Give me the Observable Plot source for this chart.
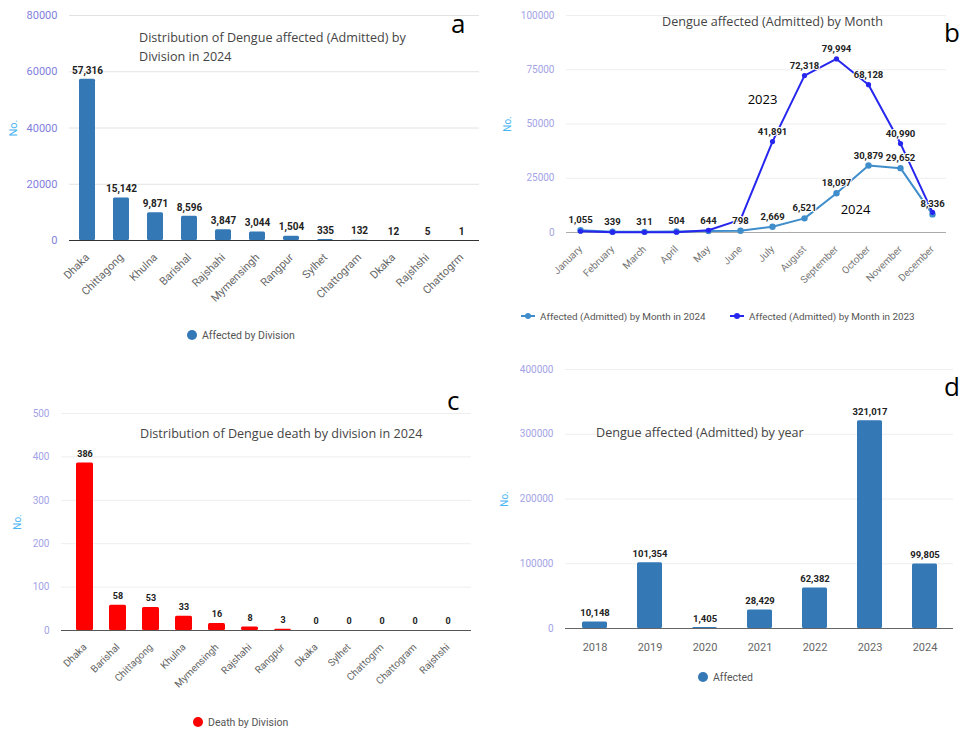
<!DOCTYPE html>
<html>
<head>
<meta charset="utf-8">
<script src="https://cdn.jsdelivr.net/npm/d3@7"></script>
<script src="https://cdn.jsdelivr.net/npm/@observablehq/plot@0.6"></script>
<style>
  body { margin: 0; background: #fff; }
  #root { position: relative; width: 960px; height: 730px; overflow: hidden; font-family: "Open Sans", sans-serif; }
  .panel { position: absolute; }
  .title { position: absolute; color: #444; font-family: "Open Sans", sans-serif; font-size: 12.6px; line-height: 19px; white-space: nowrap; }
  .letter { position: absolute; font-family: "Open Sans", sans-serif; font-size: 26px; line-height: 28px; color: #000; }
  .legend { position: absolute; font-family: Roboto, sans-serif; font-size: 10.5px; color: #555; display: flex; align-items: center; gap: 5px; white-space: nowrap; height: 14px; }
  .legend.small { font-size: 9.9px; }
  .dot { width: 10px; height: 10px; border-radius: 50%; display: inline-block; }
  [aria-label="y-axis label"] { fill: #4cb6f2; }
</style>
</head>
<body>
<div id="root"></div>
<script>
// ---------- DATA ----------
// Panel a: affected (admitted) by division, 2024
const divisionsA = ["Dhaka","Chittagong","Khulna","Barishal","Rajshahi","Mymensingh","Rangpur","Sylhet","Chattogram","Dkaka","Rajshshi","Chattogrm"];
const affectedA = [57316, 15142, 9871, 8596, 3847, 3044, 1504, 335, 132, 12, 5, 1];
const ticksA = [0, 20000, 40000, 60000, 80000];

// Panel b: affected (admitted) by month, 2024 vs 2023
const months = ["January","February","March","April","May","June","July","August","September","October","November","December"];
const admitted2024 = [1055, 339, 311, 504, 644, 798, 2669, 6521, 18097, 30879, 29652, 8336];
const admitted2023 = [566, 166, 111, 143, 1036, 5956, 41891, 72318, 79994, 68128, 40990, 9288];
const labeledMonths2023 = ["July","August","September","October","November"];
const ticksB = [0, 25000, 50000, 75000, 100000];
const seriesNamesB = ["Affected (Admitted) by Month in 2024", "Affected (Admitted) by Month in 2023"];
const annotation2023 = [{text: "2023", month: "July", value: 61300}];
const annotation2024 = [{text: "2024", month: "September", value: 10600}];

// Panel c: death by division, 2024
const divisionsC = ["Dhaka","Barishal","Chittagong","Khulna","Mymensingh","Rajshahi","Rangpur","Dkaka","Sylhet","Chattogrm","Chattogram","Rajshshi"];
const deathsC = [386, 58, 53, 33, 16, 8, 3, 0, 0, 0, 0, 0];
const ticksC = [0, 100, 200, 300, 400, 500];

// Panel d: affected (admitted) by year
const years = ["2018","2019","2020","2021","2022","2023","2024"];
const affectedYear = [10148, 101354, 1405, 28429, 62382, 321017, 99805];
const ticksD = [0, 100000, 200000, 300000, 400000];

// ---------- HELPERS ----------
const root = document.getElementById("root");
const fmt = d3.format(",");
function place(el, left, top) {
  const d = document.createElement("div");
  d.className = "panel";
  d.style.left = left + "px";
  d.style.top = top + "px";
  d.appendChild(el);
  root.appendChild(d);
}
function html(cls, left, top, inner) {
  const d = document.createElement("div");
  d.className = cls;
  d.style.left = left + "px";
  d.style.top = top + "px";
  d.innerHTML = inner;
  root.appendChild(d);
}
const baseStyle = {fontFamily: "Roboto, sans-serif", fontSize: "11px", background: "transparent", overflow: "visible"};

function barPanel({cats, vals, ticks, color, width, height, mt, mb, ml, mr, pi, po, labelOffset, tickFill, tickFont, xFont, valFont, rotate, xPad, baseline, grid}) {
  const data = cats.map((c, i) => ({cat: c, value: vals[i]}));
  return Plot.plot({
    width, height, marginTop: mt, marginBottom: mb, marginLeft: ml, marginRight: mr,
    style: baseStyle,
    x: {domain: cats, paddingInner: pi, paddingOuter: po},
    y: {domain: [ticks[0], ticks[ticks.length - 1]]},
    marks: [
      Plot.gridY(ticks, {stroke: grid, strokeOpacity: 1}),
      Plot.axisY(ticks, {tickSize: 0, tickPadding: 12, tickFormat: d => String(d), fill: tickFill, fontSize: tickFont,
        label: "No.", labelAnchor: "center", labelArrow: "none", labelOffset}),
      Plot.axisX({tickRotate: rotate, tickSize: 0, tickPadding: xPad, label: null, fill: "#666", fontSize: xFont}),
      Plot.barY(data, {x: "cat", y: "value", fill: color, rx: 1.5}),
      Plot.ruleY([0], {stroke: baseline, strokeWidth: 1.2}),
      Plot.text(data, {x: "cat", y: "value", text: d => fmt(d.value), dy: -9, fontWeight: "bold", fontSize: valFont, fill: "#222"})
    ]
  });
}

// ---------- PANEL A ----------
place(barPanel({
  cats: divisionsA, vals: affectedA, ticks: ticksA, color: "#3478b5",
  width: 480, height: 320, mt: 15, mb: 80, ml: 69, mr: 1, pi: 0.53, po: 0.26,
  labelOffset: 60, tickFill: "#7f7fdb", tickFont: 11, xFont: 11, valFont: 10, rotate: -45, xPad: 15,
  baseline: "#333", grid: "#e2e2e2"
}), 0, 0);
html("title", 139, 28, "Distribution of Dengue affected (Admitted) by<br>Division in 2024");
html("letter", 451, 9, "a");
html("legend", 187, 328, `<span class="dot" style="background:#3478b5"></span><span>Affected by Division</span>`);

// ---------- PANEL B ----------
const s2024 = months.map((m, i) => ({month: m, value: admitted2024[i]}));
const s2023 = months.map((m, i) => ({month: m, value: admitted2023[i]}));
const c2024 = "#3f8ecb", c2023 = "#2626ee";
const annoStyle = {x: "month", y: "value", text: "text", fontFamily: "Open Sans, sans-serif", fontSize: 13, fill: "#000", stroke: "white", strokeWidth: 20, strokeLinejoin: "miter"};
const plotB = Plot.plot({
  width: 470, height: 295, marginTop: 15, marginBottom: 63, marginLeft: 76, marginRight: 14,
  style: baseStyle,
  x: {type: "point", domain: months, padding: 0.35},
  y: {domain: [0, 100000]},
  marks: [
    Plot.gridY(ticksB, {stroke: "#eee", strokeOpacity: 1}),
    Plot.axisY(ticksB, {tickSize: 0, tickPadding: 12, tickFormat: d => String(d), fill: "#a3a3e6", fontSize: 10,
      label: "No.", labelAnchor: "center", labelArrow: "none", labelOffset: 63}),
    Plot.axisX({tickRotate: -45, tickSize: 0, tickPadding: 15, label: null, fill: "#777", fontSize: 10}),
    Plot.ruleY([0], {stroke: "#aaa", strokeWidth: 1.2}),
    Plot.line(s2024, {x: "month", y: "value", stroke: c2024, strokeWidth: 2}),
    Plot.dot(s2024, {x: "month", y: "value", fill: c2024, r: 3.2}),
    Plot.line(s2023, {x: "month", y: "value", stroke: c2023, strokeWidth: 2}),
    Plot.dot(s2023, {x: "month", y: "value", fill: c2023, r: 2.6}),
    Plot.text(annotation2023, {...annoStyle, dx: -10}),
    Plot.text(annotation2024, {...annoStyle, dx: 19}),
    Plot.text(s2024, {x: "month", y: "value", text: d => fmt(d.value), dy: -10, fontWeight: "bold", fontSize: 9.5, fill: "#222", stroke: "white", strokeWidth: 2}),
    Plot.text(s2023.filter(d => labeledMonths2023.includes(d.month)), {x: "month", y: "value", text: d => fmt(d.value), dy: -10, fontWeight: "bold", fontSize: 9.5, fill: "#222", stroke: "white", strokeWidth: 2})
  ]
});
place(plotB, 490, 0);
html("title", 662, 12, "Dengue affected (Admitted) by Month");
html("letter", 944, 18, "b");
const mk = c => `<svg width="14" height="10"><line x1="0" y1="5" x2="14" y2="5" stroke="${c}" stroke-width="2"/><circle cx="7" cy="5" r="3" fill="${c}"/></svg>`;
html("legend small", 521, 309, `${mk(c2024)}<span>${seriesNamesB[0]}</span>`);
html("legend small", 730, 309, `${mk(c2023)}<span>${seriesNamesB[1]}</span>`);

// ---------- PANEL C ----------
place(barPanel({
  cats: divisionsC, vals: deathsC, ticks: ticksC, color: "#ff0000",
  width: 480, height: 300, mt: 13, mb: 70, ml: 61, mr: 9, pi: 0.5, po: 0.28,
  labelOffset: 48, tickFill: "#a3a3e6", tickFont: 10, xFont: 10, valFont: 9, rotate: -45, xPad: 15,
  baseline: "#555", grid: "#eee"
}), 0, 400);
html("title", 140, 424, "Distribution of Dengue death by division in 2024");
html("letter", 447, 386, "c");
html("legend", 193, 715, `<span class="dot" style="background:#ff0000"></span><span>Death by Division</span>`);

// ---------- PANEL D ----------
place(barPanel({
  cats: years, vals: affectedYear, ticks: ticksD, color: "#3478b5",
  width: 470, height: 310, mt: 19, mb: 32, ml: 75, mr: 7, pi: 0.55, po: 0.285,
  labelOffset: 65, tickFill: "#a3a3e6", tickFont: 10, xFont: 11, valFont: 9.5, rotate: 0, xPad: 15,
  baseline: "#666", grid: "#eee"
}), 490, 350);
html("title", 596, 423, "Dengue affected (Admitted) by year");
html("letter", 944, 372, "d");
html("legend", 698, 670, `<span class="dot" style="background:#3478b5"></span><span>Affected</span>`);
</script>
</body>
</html>
